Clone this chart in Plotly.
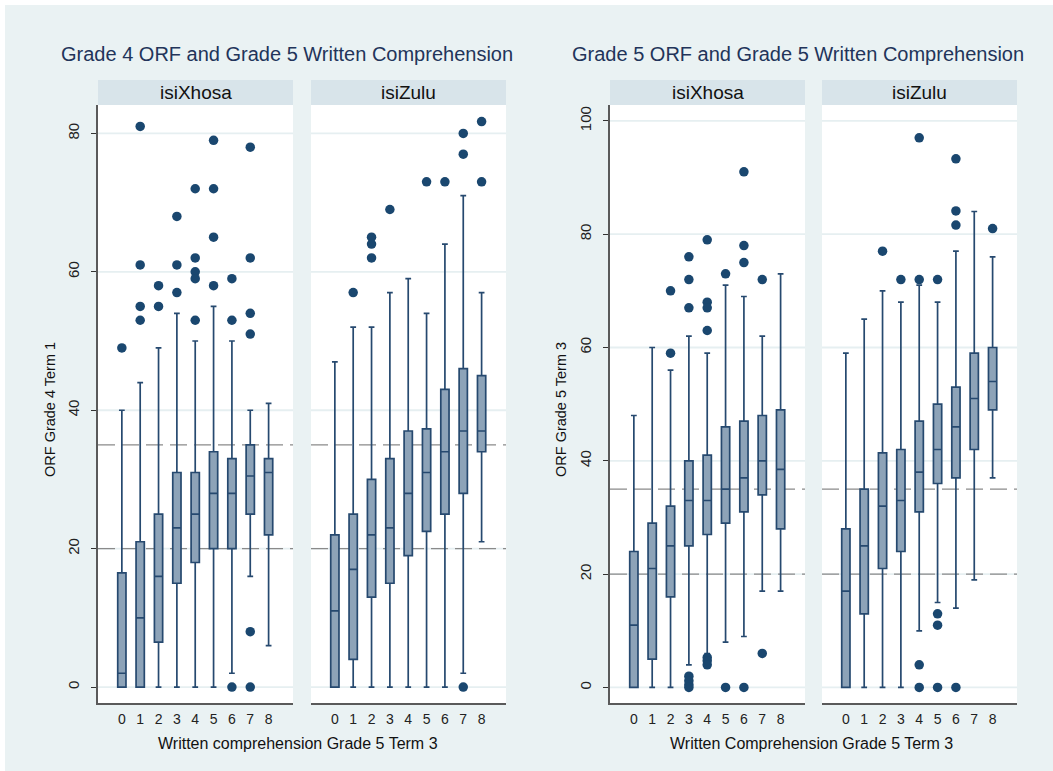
import plotly.graph_objects as go

# ---------------- data ----------------
categories = [0, 1, 2, 3, 4, 5, 6, 7, 8]

# Grade 4 ORF (left panel) - isiXhosa
g4_xh_q1 = [0, 0, 6.5, 15, 18, 20, 20, 25, 22]
g4_xh_med = [2, 10, 16, 23, 25, 28, 28, 30.5, 31]
g4_xh_q3 = [16.5, 21, 25, 31, 31, 34, 33, 35, 33]
g4_xh_lo = [0, 0, 0, 0, 0, 0, 2, 16, 6]
g4_xh_hi = [40, 44, 49, 54, 50, 55, 50, 40, 41]
g4_xh_out_x = [0, 1, 1, 1, 1, 2, 2, 3, 3, 3, 4, 4, 4, 4, 4, 5, 5, 5, 5, 6, 6, 6, 7, 7, 7, 7, 7, 7]
g4_xh_out_y = [49, 81, 61, 55, 53, 58, 55, 68, 61, 57, 72, 62, 60, 59, 53, 79, 72, 65, 58, 59, 53, 0, 78, 62, 54, 51, 8, 0]

# Grade 4 ORF (left panel) - isiZulu
g4_zu_q1 = [0, 4, 13, 15, 19, 22.5, 25, 28, 34]
g4_zu_med = [11, 17, 22, 23, 28, 31, 34, 37, 37]
g4_zu_q3 = [22, 25, 30, 33, 37, 37.3, 43, 46, 45]
g4_zu_lo = [0, 0, 0, 0, 0, 0, 0, 2, 21]
g4_zu_hi = [47, 52, 52, 57, 59, 54, 64, 71, 57]
g4_zu_out_x = [1, 2, 2, 2, 3, 5, 6, 7, 7, 7, 8, 8]
g4_zu_out_y = [57, 65, 64, 62, 69, 73, 73, 80, 77, 0, 81.7, 73]

# Grade 5 ORF (right panel) - isiXhosa
g5_xh_q1 = [0, 5, 16, 25, 27, 29, 31, 34, 28]
g5_xh_med = [11, 21, 25, 33, 33, 35, 37, 40, 38.5]
g5_xh_q3 = [24, 29, 32, 40, 41, 46, 47, 48, 49]
g5_xh_lo = [0, 0, 0, 4, 6, 8, 9, 17, 17]
g5_xh_hi = [48, 60, 56, 62, 59, 71, 69, 62, 73]
g5_xh_out_x = [2, 2, 3, 3, 3, 3, 3, 3, 3, 4, 4, 4, 4, 4, 4, 4, 5, 5, 6, 6, 6, 6, 7, 7]
g5_xh_out_y = [70, 59, 76, 72, 67, 2, 1.2, 0.5, 0, 79, 68, 67, 63, 5.3, 4.7, 4, 73, 0, 91, 78, 75, 0, 72, 6]

# Grade 5 ORF (right panel) - isiZulu
g5_zu_q1 = [0, 13, 21, 24, 31, 36, 37, 42, 49]
g5_zu_med = [17, 25, 32, 33, 38, 42, 46, 51, 54]
g5_zu_q3 = [28, 35, 41.4, 42, 47, 50, 53, 59, 60]
g5_zu_lo = [0, 0, 0, 0, 10, 15, 14, 19, 37]
g5_zu_hi = [59, 65, 70, 68, 71, 68, 77, 84, 76]
g5_zu_out_x = [2, 3, 4, 4, 4, 4, 5, 5, 5, 5, 6, 6, 6, 6, 8]
g5_zu_out_y = [77, 72, 97, 72, 4, 0, 72, 13, 11, 0, 93.3, 84.1, 81.6, 0, 81]

panel_titles = ["Grade 4 ORF and Grade 5 Written Comprehension",
                "Grade 5 ORF and Grade 5 Written Comprehension"]
subgroups = ["isiXhosa", "isiZulu"]
y_titles = ["ORF Grade 4 Term 1", "ORF Grade 5 Term 3"]
x_titles = ["Written comprehension Grade 5 Term 3", "Written Comprehension Grade 5 Term 3"]
ref_lines = [20, 35]
left_ticks = [0, 20, 40, 60, 80]
right_ticks = [0, 20, 40, 60, 80, 100]

# ---------------- styling ----------------
W, H = 1053, 771
FONT = "Liberation Sans, Arial, Helvetica, sans-serif"
BG = "#EAF2F3"
STRIP = "#D8E4EA"
BOX_FILL = "#8DA3B8"
BOX_LINE = "#26496F"
DOT = "#1A476F"
GRID = "#E6EFF1"


def px_x(v):
    return v / W


def px_y(v):
    return 1 - v / H


panels = [
    dict(q1=g4_xh_q1, med=g4_xh_med, q3=g4_xh_q3, lo=g4_xh_lo, hi=g4_xh_hi, ox=g4_xh_out_x, oy=g4_xh_out_y,
         dom=(98, 293), yr=(-2.3, 84.1), ticks=left_ticks, yaxis_shown=True, label=subgroups[0]),
    dict(q1=g4_zu_q1, med=g4_zu_med, q3=g4_zu_q3, lo=g4_zu_lo, hi=g4_zu_hi, ox=g4_zu_out_x, oy=g4_zu_out_y,
         dom=(311, 506), yr=(-2.3, 84.1), ticks=left_ticks, yaxis_shown=False, label=subgroups[1]),
    dict(q1=g5_xh_q1, med=g5_xh_med, q3=g5_xh_q3, lo=g5_xh_lo, hi=g5_xh_hi, ox=g5_xh_out_x, oy=g5_xh_out_y,
         dom=(610, 805), yr=(-2.74, 102.8), ticks=right_ticks, yaxis_shown=True, label=subgroups[0]),
    dict(q1=g5_zu_q1, med=g5_zu_med, q3=g5_zu_q3, lo=g5_zu_lo, hi=g5_zu_hi, ox=g5_zu_out_x, oy=g5_zu_out_y,
         dom=(822, 1017), yr=(-2.74, 102.8), ticks=right_ticks, yaxis_shown=False, label=subgroups[1]),
]

fig = go.Figure()
layout_axes = {}
shapes = []
annotations = []

PLOT_TOP, PLOT_BOT = 105, 703
STRIP_TOP = 80

for i, p in enumerate(panels):
    n = i + 1
    xa = "x" if n == 1 else f"x{n}"
    ya = "y" if n == 1 else f"y{n}"
    fig.add_trace(go.Box(
        x=categories, q1=p["q1"], median=p["med"], q3=p["q3"],
        lowerfence=p["lo"], upperfence=p["hi"],
        boxpoints=False, width=0.45, whiskerwidth=0.7,
        fillcolor=BOX_FILL, line=dict(color=BOX_LINE, width=1.7),
        xaxis=xa, yaxis=ya, showlegend=False, hoverinfo="skip",
    ))
    fig.add_trace(go.Scatter(
        x=p["ox"], y=p["oy"], mode="markers",
        marker=dict(color=DOT, size=9.5, line=dict(width=0)),
        xaxis=xa, yaxis=ya, showlegend=False, hoverinfo="skip",
    ))
    xkey = "xaxis" if n == 1 else f"xaxis{n}"
    ykey = "yaxis" if n == 1 else f"yaxis{n}"
    layout_axes[xkey] = dict(
        domain=[px_x(p["dom"][0]), px_x(p["dom"][1])], anchor=ya,
        range=[-1.3, 9.33], tickmode="array", tickvals=categories,
        ticktext=[str(c) for c in categories], ticks="", showgrid=False,
        zeroline=False, showline=True, linecolor="#5A5A5A", linewidth=1.5,
        tickfont=dict(family=FONT, size=14, color="#222"), ticklabelstandoff=2,
    )
    layout_axes[ykey] = dict(
        domain=[px_y(PLOT_BOT), px_y(PLOT_TOP)], anchor=xa,
        range=list(p["yr"]), tickmode="array", tickvals=p["ticks"],
        showgrid=False, zeroline=False,
        showline=p["yaxis_shown"], linecolor="#5A5A5A", linewidth=1.5,
        ticks="outside" if p["yaxis_shown"] else "", ticklen=5, tickcolor="#333",
        showticklabels=p["yaxis_shown"], tickangle=-90,
        tickfont=dict(family=FONT, size=15, color="#222"), ticklabelstandoff=6,
    )
    # gridlines (as shapes so the dashed reference lines can sit on top of them)
    for v in p["ticks"]:
        shapes.append(dict(type="line", xref=f"{xa} domain", yref=ya, x0=0, x1=1, y0=v, y1=v,
                           line=dict(color=GRID, width=1.8), layer="below"))
    for v in ref_lines:
        shapes.append(dict(type="line", xref=f"{xa} domain", yref=ya, x0=0, x1=1, y0=v, y1=v,
                           line=dict(color="#8A8A8A", width=1.2, dash="17px,7px"), layer="below"))
    # strip header
    shapes.append(dict(type="rect", xref="paper", yref="paper",
                       x0=px_x(p["dom"][0]), x1=px_x(p["dom"][1]),
                       y0=px_y(PLOT_TOP), y1=px_y(STRIP_TOP),
                       fillcolor=STRIP, line=dict(width=0), layer="below"))
    annotations.append(dict(text=p["label"], xref="paper", yref="paper",
                            x=px_x((p["dom"][0] + p["dom"][1]) / 2), y=px_y((PLOT_TOP + STRIP_TOP) / 2),
                            showarrow=False, xanchor="center", yanchor="middle",
                            font=dict(family=FONT, size=19, color="#111")))

# outer white margin strips (left / top)
shapes.append(dict(type="rect", xref="paper", yref="paper", x0=0, x1=px_x(5), y0=0, y1=1,
                   fillcolor="white", line=dict(width=0), layer="below"))
shapes.append(dict(type="rect", xref="paper", yref="paper", x0=0, x1=1, y0=px_y(5), y1=1,
                   fillcolor="white", line=dict(width=0), layer="below"))

# panel titles
for t, cx in zip(panel_titles, [287, 798]):
    annotations.append(dict(text=t, xref="paper", yref="paper", x=px_x(cx), y=px_y(54),
                            showarrow=False, xanchor="center", yanchor="middle",
                            font=dict(family=FONT, size=20, color="#22345A")))
# y titles
for t, cx in zip(y_titles, [50, 561]):
    annotations.append(dict(text=t, xref="paper", yref="paper", x=px_x(cx), y=px_y(410),
                            showarrow=False, xanchor="center", yanchor="middle", textangle=-90,
                            font=dict(family=FONT, size=14.5, color="#111")))
# x titles
for t, cx in zip(x_titles, [297.5, 811]):
    annotations.append(dict(text=t, xref="paper", yref="paper", x=px_x(cx), y=px_y(743),
                            showarrow=False, xanchor="center", yanchor="middle",
                            font=dict(family=FONT, size=16, color="#111")))

fig.update_layout(
    width=W, height=H, margin=dict(l=0, r=0, t=0, b=0),
    paper_bgcolor=BG, plot_bgcolor="white",
    shapes=shapes, annotations=annotations, showlegend=False,
    font=dict(family=FONT),
    **layout_axes,
)

fig.write_html("out.html", config={"displayModeBar": False},
               post_script="document.body.style.margin='0';document.body.style.overflow='hidden';")
